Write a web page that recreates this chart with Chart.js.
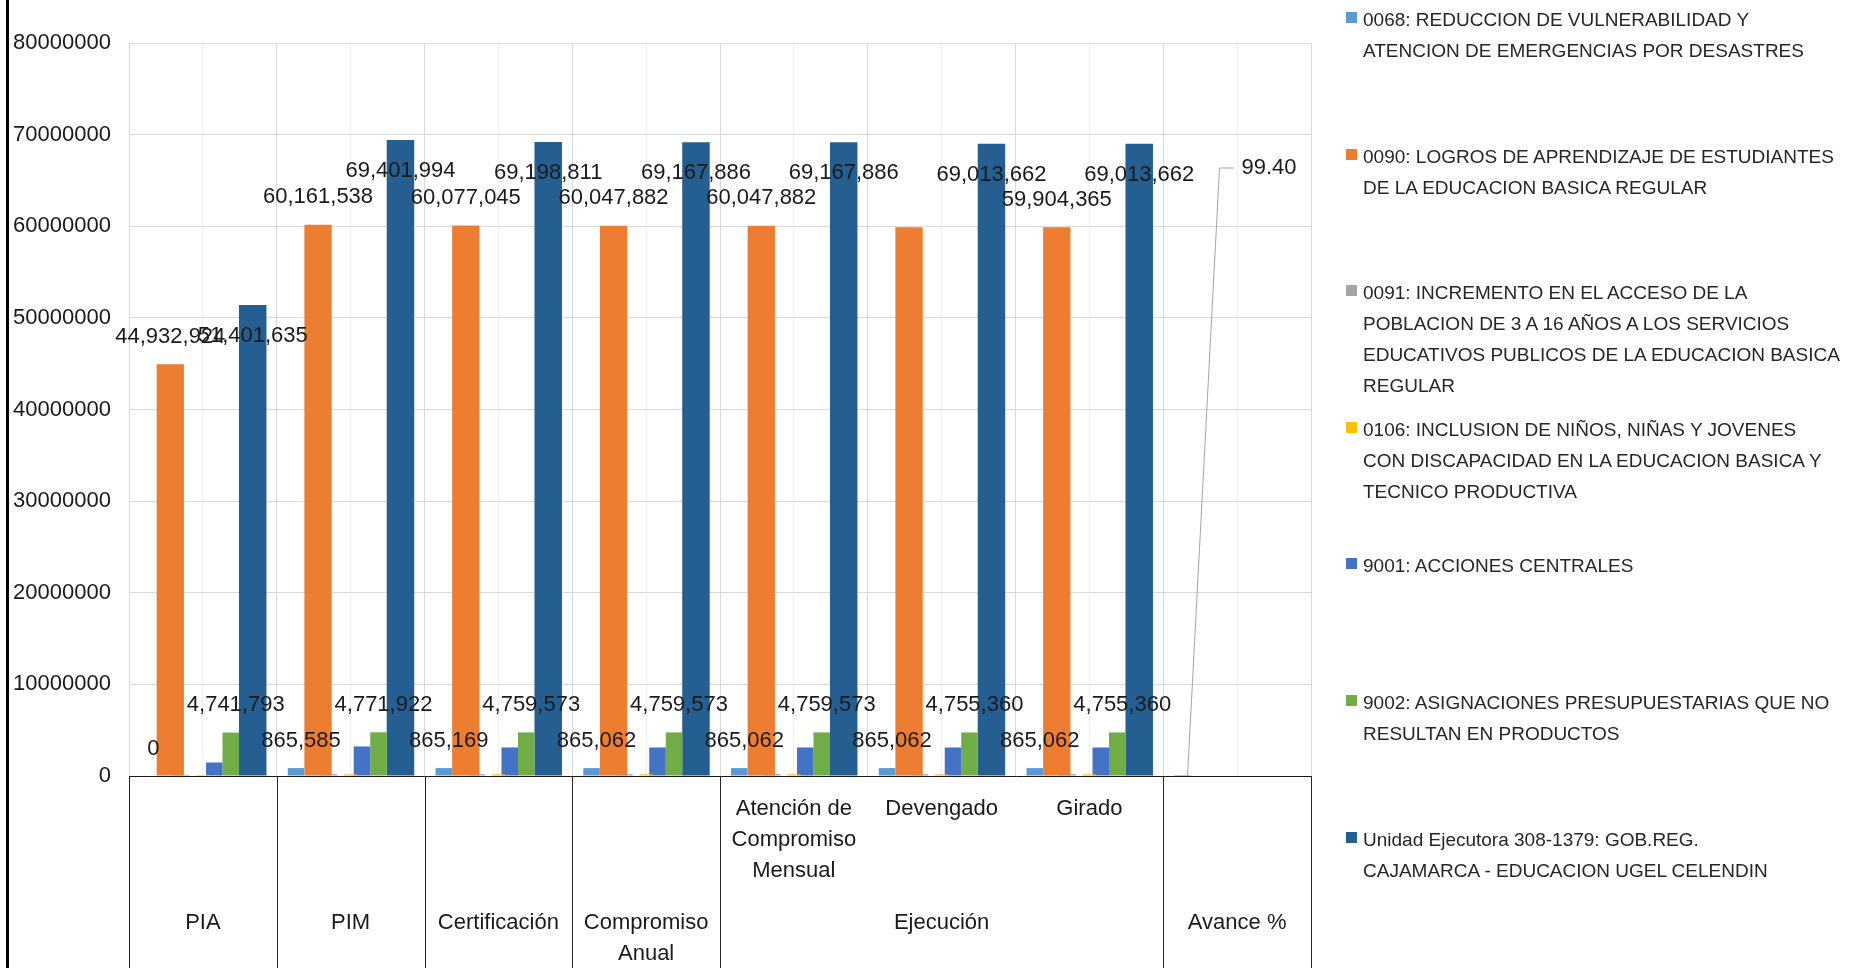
<!DOCTYPE html>
<html>
<head>
<meta charset="utf-8">
<script src="https://cdn.jsdelivr.net/npm/chart.js@4.4.1/dist/chart.umd.min.js"></script>
<style>
	body { margin: 0; background: #fff; }
	#wrap { position: relative; width: 1865px; height: 968px; background: #fff; overflow: hidden; }
	#chart { position: absolute; left: 0; top: 0; }
	#frame-line { position: absolute; left: 6px; top: 0; width: 3px; height: 968px; background: #000; }
	#legend { position: absolute; left: 1346px; top: 4px; }
	#legend .item { position: relative; height: 136.6px; }
	#legend .swatch { position: absolute; left: 0; top: 8px; width: 11px; height: 11px; }
	#legend .text { position: absolute; left: 17px; top: 0; line-height: 31px; font-size: 19px;
		font-family: "Liberation Sans", Arial, sans-serif; color: #262626; white-space: nowrap; }
</style>
</head>
<body>
<div id="wrap">
	<canvas id="chart" width="1865" height="968"></canvas>
	<div id="frame-line"></div>
	<div id="legend"></div>
</div>
<script>
// Categories (two-level axis: sub level and parent level)
const categories = ['PIA', 'PIM', 'Certificación', 'Compromiso Anual', 'Atención de Compromiso Mensual', 'Devengado', 'Girado', 'Avance %'];
const subLabels = ['', '', '', '', ['Atención de', 'Compromiso', 'Mensual'], 'Devengado', 'Girado', ''];
const parentLabels = ['PIA', 'PIM', 'Certificación', ['Compromiso', 'Anual'], 'Ejecución', 'Ejecución', 'Ejecución', 'Avance %'];

// Series values
const s0068 = [0, 865585, 865169, 865062, 865062, 865062, 865062, 99.40];
const s0090 = [44932924, 60161538, 60077045, 60047882, 60047882, 59904365, 59904365, null];
const s0091 = [130000, 200000, 200000, 200000, 200000, 200000, 200000, null];
const s0106 = [120000, 180000, 180000, 180000, 180000, 180000, 180000, null];
const s9001 = [1476918, 3222949, 3117024, 3115369, 3115369, 3108875, 3108875, null];
const s9002 = [4741793, 4771922, 4759573, 4759573, 4759573, 4755360, 4755360, null];
const sUnidad = [51401635, 69401994, 69198811, 69167886, 69167886, 69013662, 69013662, null];

// Series names, one entry per legend line
const seriesNames = [
	['0068: REDUCCION DE VULNERABILIDAD Y', 'ATENCION DE EMERGENCIAS POR DESASTRES'],
	['0090: LOGROS DE APRENDIZAJE DE ESTUDIANTES', 'DE LA EDUCACION BASICA REGULAR'],
	['0091: INCREMENTO EN EL ACCESO DE LA', 'POBLACION DE 3 A 16 AÑOS A LOS SERVICIOS', 'EDUCATIVOS PUBLICOS DE LA EDUCACION BASICA', 'REGULAR'],
	['0106: INCLUSION DE NIÑOS, NIÑAS Y JOVENES', 'CON DISCAPACIDAD EN LA EDUCACION BASICA Y', 'TECNICO PRODUCTIVA'],
	['9001: ACCIONES CENTRALES'],
	['9002: ASIGNACIONES PRESUPUESTARIAS QUE NO', 'RESULTAN EN PRODUCTOS'],
	['Unidad Ejecutora 308-1379: GOB.REG.', 'CAJAMARCA - EDUCACION UGEL CELENDIN']
];

// Y axis ticks
const yMin = 0;
const yMax = 80000000;
const yStep = 10000000;

const seriesValues = [s0068, s0090, s0091, s0106, s9001, s9002, sUnidad];

// Look of each series (colour, bar width / place in the cluster, value label)
const seriesStyle = [
	{ color: '#5B9BD5', cp: 0.862, bp: 0.907, label: 'above', labelDx: 5 },
	{ color: '#ED7D31', cp: 0.772, bp: 1.675, label: 'above', labelDx: 0 },
	{ color: '#A5A5A5', cp: 1.025, bp: 0.762, label: null, labelDx: 0 },
	{ color: '#FFC000', cp: 0.780, bp: 0.800, label: null, labelDx: 0 },
	{ color: '#4472C4', cp: 0.538, bp: 1.454, label: null, labelDx: 0 },
	{ color: '#70AD47', cp: 0.660, bp: 1.185, label: 'above', labelDx: 5 },
	{ color: '#255E91', cp: 0.787, bp: 1.655, label: 'inside', labelDx: 0 }
];

const FONT = '"Liberation Sans", Arial, sans-serif';
const TEXT = '#1a1a1a';

function formatValue(v) {
	if (Number.isInteger(v)) {
		return String(v).replace(/\B(?=(\d{3})+(?!\d))/g, ',');
	}
	return v.toFixed(2);
}

// Parent label shown once, in the middle of its run of categories
const key = l => JSON.stringify(l);
const groupLabels = parentLabels.map((l, i) => {
	let start = i, end = i;
	while (start > 0 && key(parentLabels[start - 1]) === key(l)) start--;
	while (end < parentLabels.length - 1 && key(parentLabels[end + 1]) === key(l)) end++;
	return i === Math.floor((start + end) / 2) ? l : '';
});

// Value labels on the bars
const valueLabels = {
	id: 'valueLabels',
	afterDatasetsDraw(chart, args, opts) {
		const ctx = chart.ctx;
		ctx.save();
		ctx.font = opts.size + 'px ' + FONT;
		ctx.fillStyle = TEXT;
		ctx.textBaseline = 'middle';
		chart.data.datasets.forEach((ds, di) => {
			const st = seriesStyle[di];
			if (!st.label) return;
			chart.getDatasetMeta(di).data.forEach((bar, i) => {
				const v = ds.data[i];
				if (v === null || v === undefined) return;
				if (opts.hidden.some(h => h.dataset === di && h.index === i)) return;
				const x = bar.x + st.labelDx;
				const moved = opts.moved.find(m => m.dataset === di && m.index === i);
				if (moved) {
					ctx.strokeStyle = '#a6a6a6';
					ctx.lineWidth = 1;
					ctx.beginPath();
					ctx.moveTo(x, bar.y);
					ctx.lineTo(x + moved.dx, bar.y + moved.dy);
					ctx.lineTo(x + moved.dx + 14, bar.y + moved.dy);
					ctx.stroke();
					ctx.textAlign = 'left';
					ctx.fillText(formatValue(v), x + moved.dx + 22, bar.y + moved.dy);
					return;
				}
				ctx.textAlign = 'center';
				const y = st.label === 'inside' ? bar.y + opts.inside : bar.y - opts.above;
				ctx.fillText(formatValue(v), x, y);
			});
		});
		ctx.restore();
	}
};

// Black separators of the two-level category axis
const axisBoxes = {
	id: 'axisBoxes',
	afterDraw(chart) {
		const ctx = chart.ctx;
		const x = chart.scales.x;
		const top = chart.chartArea.bottom;
		ctx.save();
		ctx.strokeStyle = '#262626';
		ctx.lineWidth = 1;
		for (let b = 0; b <= categories.length; b++) {
			const inside = b > 0 && b < categories.length && key(parentLabels[b - 1]) === key(parentLabels[b]);
			if (inside) continue;
			const px = Math.round(x.getPixelForValue(b - 0.5)) + 0.5;
			ctx.beginPath();
			ctx.moveTo(px, top);
			ctx.lineTo(px, chart.height);
			ctx.stroke();
		}
		ctx.restore();
	}
};

// Legend built from the chart's datasets
const htmlLegend = {
	id: 'htmlLegend',
	afterUpdate(chart) {
		const box = document.getElementById('legend');
		box.innerHTML = '';
		chart.data.datasets.forEach(ds => {
			const item = document.createElement('div');
			item.className = 'item';
			const sw = document.createElement('span');
			sw.className = 'swatch';
			sw.style.background = ds.backgroundColor;
			const txt = document.createElement('div');
			txt.className = 'text';
			txt.innerHTML = ds.legendLines.join('<br>');
			item.appendChild(sw);
			item.appendChild(txt);
			box.appendChild(item);
		});
	}
};

const datasets = seriesValues.map((values, i) => ({
	label: seriesNames[i].join(' '),
	legendLines: seriesNames[i],
	data: values,
	backgroundColor: seriesStyle[i].color,
	borderWidth: 0,
	categoryPercentage: seriesStyle[i].cp,
	barPercentage: seriesStyle[i].bp
}));

const tickFont = { family: FONT, size: 22, lineHeight: 1.42 };

new Chart(document.getElementById('chart').getContext('2d'), {
	type: 'bar',
	data: {
		labels: categories,
		datasets: datasets
	},
	options: {
		responsive: false,
		animation: false,
		devicePixelRatio: 1,
		layout: {
			padding: { top: 43, right: 554, bottom: 0, left: 0 }
		},
		scales: {
			x: {
				type: 'category',
				labels: subLabels,
				offset: true,
				weight: 1,
				grid: { offset: true, color: '#d9d9d9', drawTicks: false },
				border: { color: '#1a1a1a', width: 1 },
				ticks: { padding: 17, font: tickFont, color: TEXT, maxRotation: 0, autoSkip: false },
				afterFit: s => { s.height = 120; }
			},
			x2: {
				type: 'category',
				labels: groupLabels,
				position: 'bottom',
				offset: true,
				weight: 2,
				grid: { offset: false, color: '#eeeeee', drawTicks: false },
				border: { display: false },
				ticks: { padding: 11.4, font: tickFont, color: TEXT, maxRotation: 0, autoSkip: false },
				afterFit: s => { s.height = 72; }
			},
			y: {
				min: yMin,
				max: yMax,
				grid: { color: '#d9d9d9', drawTicks: false },
				border: { display: false },
				ticks: {
					stepSize: yStep,
					padding: 18,
					color: TEXT,
					font: { family: FONT, size: 22 },
					callback: v => String(v)
				},
				afterFit: s => { s.width = 129; }
			}
		},
		plugins: {
			legend: { display: false },
			tooltip: { enabled: false },
			valueLabels: {
				size: 22,
				above: 27.5,
				inside: 31,
				hidden: [{ dataset: 1, index: 5 }],
				moved: [{ dataset: 0, index: 7, dx: 32, dy: -608 }]
			}
		}
	},
	plugins: [valueLabels, axisBoxes, htmlLegend]
});
</script>
</body>
</html>
